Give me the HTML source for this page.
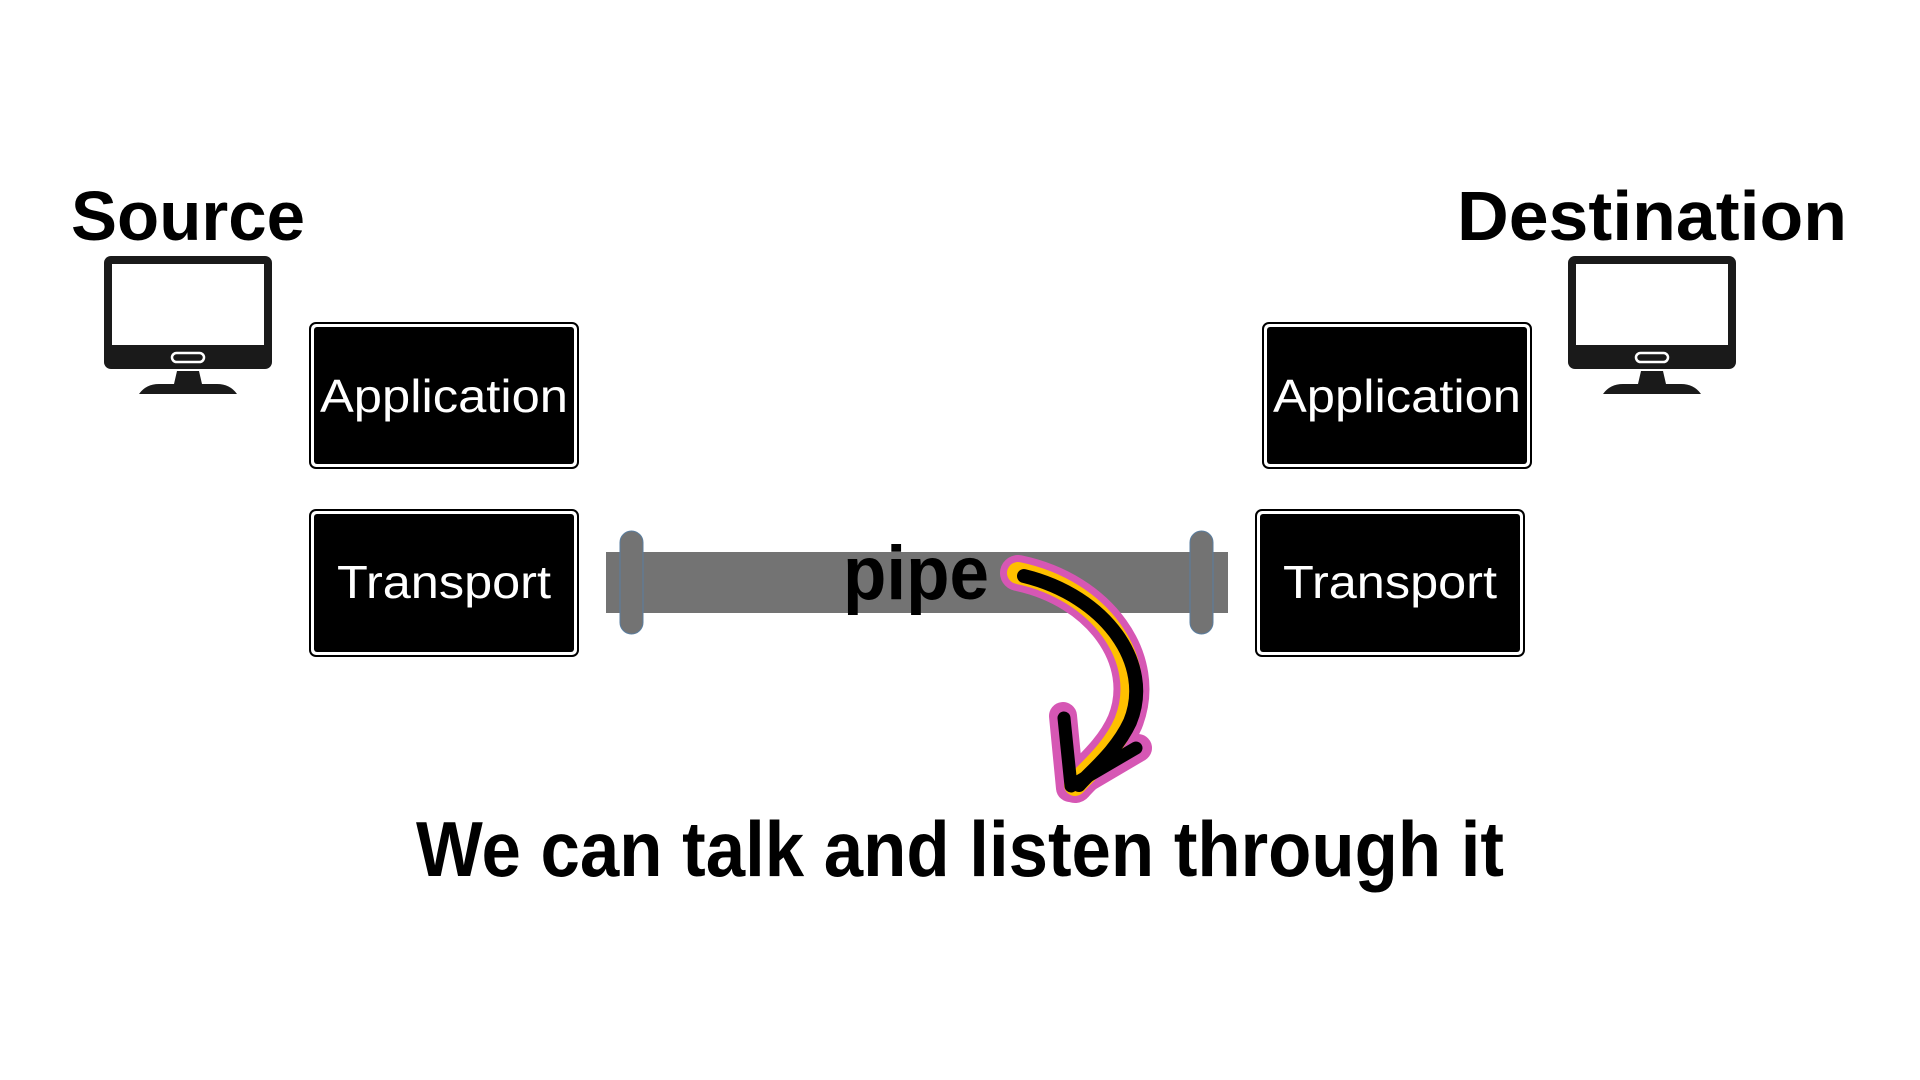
<!DOCTYPE html>
<html><head><meta charset="utf-8"><style>html,body{margin:0;padding:0;background:#fff}svg{display:block}</style></head>
<body>
<svg width="1920" height="1080" viewBox="0 0 1920 1080" xmlns="http://www.w3.org/2000/svg" font-family="Liberation Sans, sans-serif">
<rect width="1920" height="1080" fill="#fff"/>
<defs>
<g id="mon">
<rect x="0" y="0" width="168" height="113" rx="7" fill="#1a1a1a"/>
<rect x="8" y="8" width="152" height="81" fill="#fff"/>
<rect x="68" y="97" width="32" height="9" rx="4.5" fill="none" stroke="#fff" stroke-width="2.5"/>
<polygon points="73,115 95,115 98,128 70,128" fill="#1a1a1a"/>
<path d="M35,138 Q42,128 55,128 L113,128 Q126,128 133,138 Z" fill="#1a1a1a"/>
</g>
</defs>
<text x="71" y="240" font-size="70" font-weight="bold" textLength="234" lengthAdjust="spacingAndGlyphs">Source</text>
<text x="1457" y="240" font-size="70" font-weight="bold" textLength="390" lengthAdjust="spacingAndGlyphs">Destination</text>
<use href="#mon" x="104" y="256"/>
<use href="#mon" x="1568" y="256"/>
<g stroke="#000" stroke-width="2">
<rect x="310" y="323" width="268" height="145" rx="6" fill="#fff"/>
<rect x="310" y="510" width="268" height="146" rx="6" fill="#fff"/>
<rect x="1263" y="323" width="268" height="145" rx="6" fill="#fff"/>
<rect x="1256" y="510" width="268" height="146" rx="6" fill="#fff"/>
</g>
<g fill="#000">
<rect x="314" y="327" width="260" height="137" rx="3"/>
<rect x="314" y="514" width="260" height="138" rx="3"/>
<rect x="1267" y="327" width="260" height="137" rx="3"/>
<rect x="1260" y="514" width="260" height="138" rx="3"/>
</g>
<g fill="#fff" font-size="46">
<text x="320" y="412" textLength="248" lengthAdjust="spacingAndGlyphs">Application</text>
<text x="337" y="598" textLength="214" lengthAdjust="spacingAndGlyphs">Transport</text>
<text x="1273" y="412" textLength="248" lengthAdjust="spacingAndGlyphs">Application</text>
<text x="1283" y="598" textLength="214" lengthAdjust="spacingAndGlyphs">Transport</text>
</g>
<rect x="606" y="552" width="622" height="61" fill="#737373"/>
<rect x="620" y="531" width="23" height="103" rx="11.5" fill="#737373" stroke="#5a7ea0" stroke-width="1"/>
<rect x="1190" y="531" width="23" height="103" rx="11.5" fill="#737373" stroke="#5a7ea0" stroke-width="1"/>
<text x="843" y="599" font-size="76" font-weight="bold" textLength="146" lengthAdjust="spacingAndGlyphs">pipe</text>
<g stroke-linecap="round" stroke-linejoin="round" fill="none">
<path d="M1018,573 C1100,590 1150,660 1125,722 C1112,752 1086,772 1075,785" stroke="#d657b4" stroke-width="36"/>
<path d="M1063,716 L1070,788 L1138,748" stroke="#d657b4" stroke-width="28"/>
<path d="M1018,573 C1100,590 1150,660 1125,722 C1112,752 1086,772 1075,785" stroke="#ffc000" stroke-width="22"/>
<path d="M1024,576 C1106,596 1154,664 1130,722 C1116,752 1090,772 1079,785" stroke="#000" stroke-width="14"/>
<path d="M1064,718 L1071,786 L1136,748" stroke="#000" stroke-width="13"/>
</g>
<text x="416" y="876" font-size="78" font-weight="bold" textLength="1088" lengthAdjust="spacingAndGlyphs">We can talk and listen through it</text>
</svg>
</body></html>
